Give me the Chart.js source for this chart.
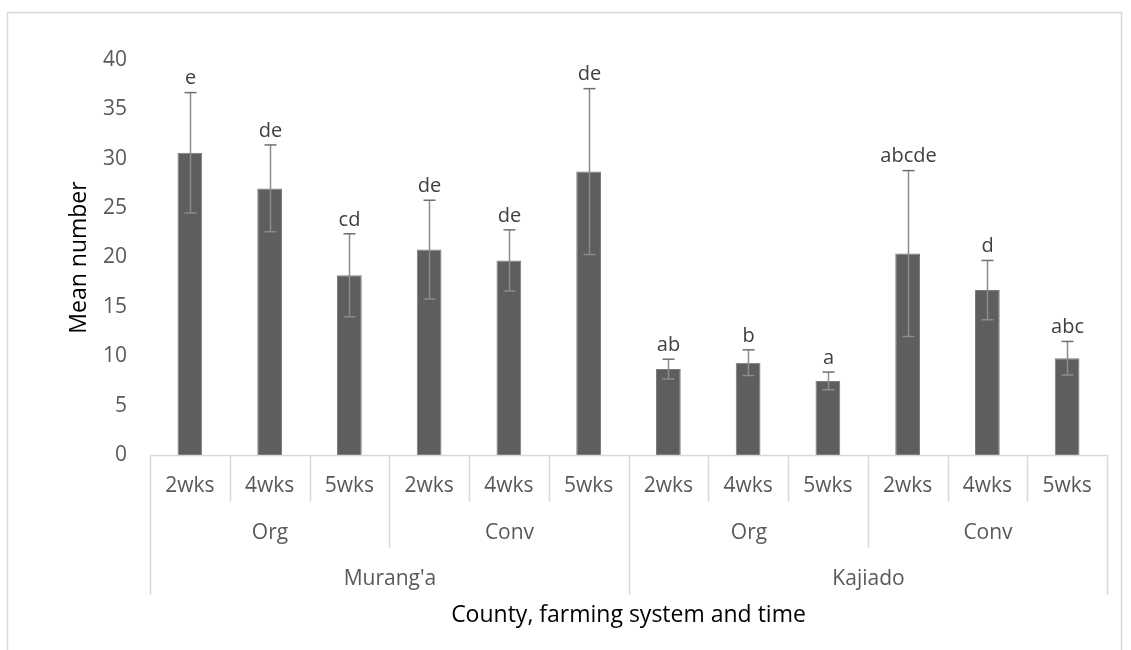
<!DOCTYPE html>
<html>
<head>
<meta charset="utf-8">
<script src="https://cdn.jsdelivr.net/npm/chart.js@4.4.1/dist/chart.umd.min.js"></script>
<style>
  html, body { margin: 0; padding: 0; background: #fff; }
  canvas { display: block; }
</style>
</head>
<body>
<canvas id="myChart" width="1131" height="650"></canvas>
<script>
// sampling time, farming system and county for each bar
const weeks = ['2wks', '4wks', '5wks', '2wks', '4wks', '5wks', '2wks', '4wks', '5wks', '2wks', '4wks', '5wks'];
const systems = ['Org', 'Conv', 'Org', 'Conv'];
const counties = ["Murang'a", 'Kajiado'];

// mean number with standard error and significance letters
const means = [30.6, 27.0, 18.2, 20.8, 19.7, 28.7, 8.7, 9.35, 7.5, 20.4, 16.7, 9.8];
const errors = [6.1, 4.4, 4.2, 5.0, 3.1, 8.4, 1.0, 1.3, 0.9, 8.4, 3.0, 1.7];
const letters = ['e', 'de', 'cd', 'de', 'de', 'de', 'ab', 'b', 'a', 'abcde', 'd', 'abc'];

const yTicks = [0, 5, 10, 15, 20, 25, 30, 35, 40];

const FONT = '"Open Sans", "DejaVu Sans", sans-serif';
const lineGray = '#d9d9d9';

// outer frame of the chart
const framePlugin = {
  id: 'frame',
  beforeDraw(chart) {
    const c = chart.ctx;
    c.save();
    c.strokeStyle = lineGray;
    c.lineWidth = 1.5;
    c.beginPath();
    c.moveTo(7.5, 700);
    c.lineTo(7.5, 12.5);
    c.lineTo(1121.5, 12.5);
    c.lineTo(1121.5, 700);
    c.stroke();
    c.restore();
  }
};

// error bars and letters above each bar
const errorPlugin = {
  id: 'errorBars',
  afterDatasetsDraw(chart) {
    const c = chart.ctx;
    const y = chart.scales.y;
    const meta = chart.getDatasetMeta(0);
    c.save();
    meta.data.forEach((bar, i) => {
      const x = Math.round(bar.x) + 0.5;
      const top = y.getPixelForValue(means[i] + errors[i]);
      const bottom = y.getPixelForValue(means[i] - errors[i]);
      c.strokeStyle = '#8c8c8c';
      c.lineWidth = 1.5;
      c.beginPath();
      c.moveTo(x, top);
      c.lineTo(x, bottom);
      c.moveTo(x - 6, bottom);
      c.lineTo(x + 6, bottom);
      c.stroke();
      c.strokeStyle = '#6e6e6e';
      c.beginPath();
      c.moveTo(x - 6, top);
      c.lineTo(x + 6, top);
      c.stroke();

      c.fillStyle = '#404040';
      c.font = '20px ' + FONT;
      c.textAlign = 'center';
      c.textBaseline = 'middle';
      c.fillText(letters[i], x, top - 14);
    });
    c.restore();
  }
};

// three rows of category labels under the bars
const groupAxisPlugin = {
  id: 'groupAxis',
  afterDraw(chart) {
    const c = chart.ctx;
    const x = chart.scales.x;
    const area = chart.chartArea;
    const n = weeks.length;
    const step = (area.right - area.left) / n;
    const edge = i => Math.round(area.left + i * step) + 0.5;
    const base = area.bottom;
    const rows = [base + 31, base + 78, base + 124];
    const ends = [base + 47, base + 93, base + 140];

    c.save();
    c.strokeStyle = lineGray;
    c.lineWidth = 1.5;
    c.beginPath();
    c.moveTo(area.left, base + 0.5);
    c.lineTo(area.right, base + 0.5);
    for (let i = 0; i <= n; i++) {
      let end = ends[0];
      if (i % 3 === 0) end = ends[1];
      if (i % 6 === 0) end = ends[2];
      c.moveTo(edge(i), base);
      c.lineTo(edge(i), end);
    }
    c.stroke();

    c.fillStyle = '#595959';
    c.font = '21px ' + FONT;
    c.textAlign = 'center';
    c.textBaseline = 'middle';
    weeks.forEach((w, i) => {
      c.fillText(w, x.getPixelForValue(i), rows[0]);
    });
    systems.forEach((s, g) => {
      c.fillText(s, (edge(g * 3) + edge(g * 3 + 3)) / 2, rows[1]);
    });
    counties.forEach((s, g) => {
      c.fillText(s, (edge(g * 6) + edge(g * 6 + 6)) / 2, rows[2]);
    });

    c.fillStyle = '#000';
    c.font = '23px ' + FONT;
    c.fillText('County, farming system and time', (area.left + area.right) / 2, base + 160);
    c.restore();
  }
};

const ctx = document.getElementById('myChart');
new Chart(ctx, {
  type: 'bar',
  data: {
    labels: weeks.map((w, i) => i),
    datasets: [{
      data: means,
      backgroundColor: '#5e5e5e',
      borderColor: '#7a7a7a',
      borderWidth: 1,
      barPercentage: 0.31,
      categoryPercentage: 1,
    }],
  },
  options: {
    responsive: false,
    animation: false,
    layout: {
      padding: { top: 60, right: 24, bottom: 195, left: 0 }
    },
    plugins: {
      legend: { display: false },
      tooltip: { enabled: false },
    },
    scales: {
      x: {
        display: false,
      },
      y: {
        min: 0,
        max: 40,
        afterBuildTicks(scale) {
          scale.ticks = yTicks.map(v => ({ value: v }));
        },
        afterFit(scale) {
          scale.width = 150;
        },
        grid: { display: false, drawTicks: false },
        border: { display: false },
        ticks: {
          color: '#595959',
          font: { family: FONT, size: 21 },
          padding: 23,
        },
        title: {
          display: true,
          text: 'Mean number',
          color: '#000',
          font: { family: FONT, size: 23 },
          padding: { top: 66, bottom: 0 },
        },
      },
    },
  },
  plugins: [framePlugin, errorPlugin, groupAxisPlugin],
});
</script>
</body>
</html>
